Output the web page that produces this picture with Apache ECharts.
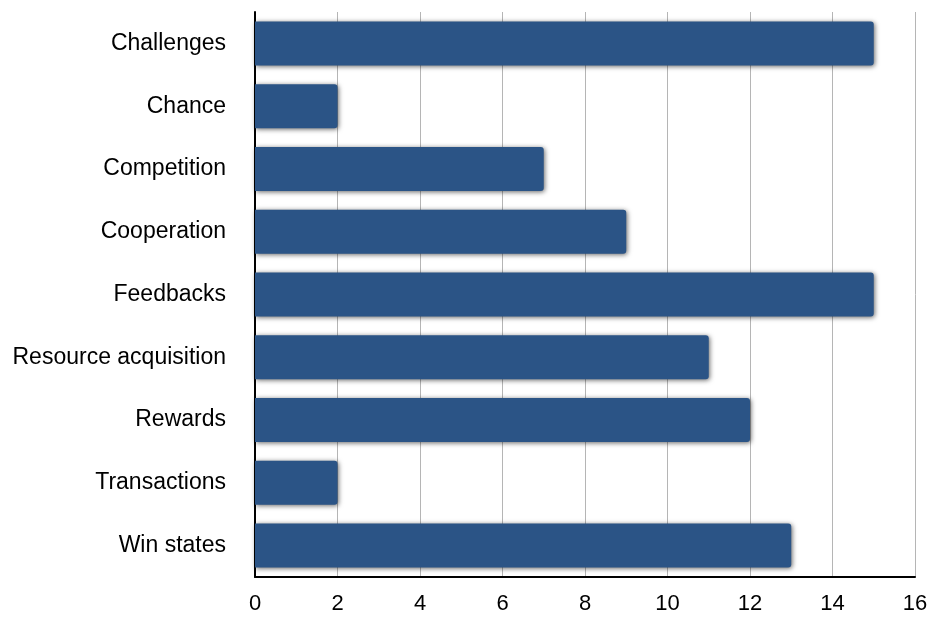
<!DOCTYPE html>
<html>
<head>
<meta charset="utf-8">
<script src="https://cdn.jsdelivr.net/npm/echarts@6/dist/echarts.min.js"></script>
<style>
  html, body { margin: 0; padding: 0; background: #fff; }
  #chart { width: 940px; height: 617px; }
</style>
</head>
<body>
<div id="chart"></div>
<script>
// Game mechanics and how often each appears
const categories = [
  'Challenges', 'Chance', 'Competition', 'Cooperation', 'Feedbacks',
  'Resource acquisition', 'Rewards', 'Transactions', 'Win states'
];
const counts = [15, 2, 7, 9, 15, 11, 12, 2, 13];
const xTicks = [0, 2, 4, 6, 8, 10, 12, 14, 16];

const chart = echarts.init(document.getElementById('chart'));
chart.setOption({
  animation: false,
  backgroundColor: '#ffffff',
  grid: { left: 255, right: 25, top: 12, bottom: 40, containLabel: false },
  xAxis: {
    type: 'value',
    min: xTicks[0],
    max: xTicks[xTicks.length - 1],
    interval: 2,
    axisLine: { show: true, lineStyle: { color: '#000', width: 2 } },
    axisTick: { show: false },
    axisLabel: {
      color: '#000', fontSize: 22, margin: 16,
      fontFamily: 'Liberation Sans, Arial, sans-serif'
    },
    splitLine: { show: true, lineStyle: { color: '#b5b5b5', width: 1 } }
  },
  yAxis: {
    type: 'category',
    data: categories,
    inverse: true,
    axisLine: { show: true, lineStyle: { color: '#000', width: 2 } },
    axisTick: { show: false },
    axisLabel: {
      color: '#000', fontSize: 23, margin: 29,
      fontFamily: 'Liberation Sans, Arial, sans-serif'
    },
    splitLine: { show: false }
  },
  series: [{
    type: 'bar',
    data: counts,
    barWidth: 44,
    itemStyle: {
      color: '#2b5486',
      borderRadius: [0, 3, 3, 0],
      shadowColor: 'rgba(0,0,0,0.6)',
      shadowBlur: 5,
      shadowOffsetX: 1,
      shadowOffsetY: 1
    }
  }]
});
</script>
</body>
</html>
